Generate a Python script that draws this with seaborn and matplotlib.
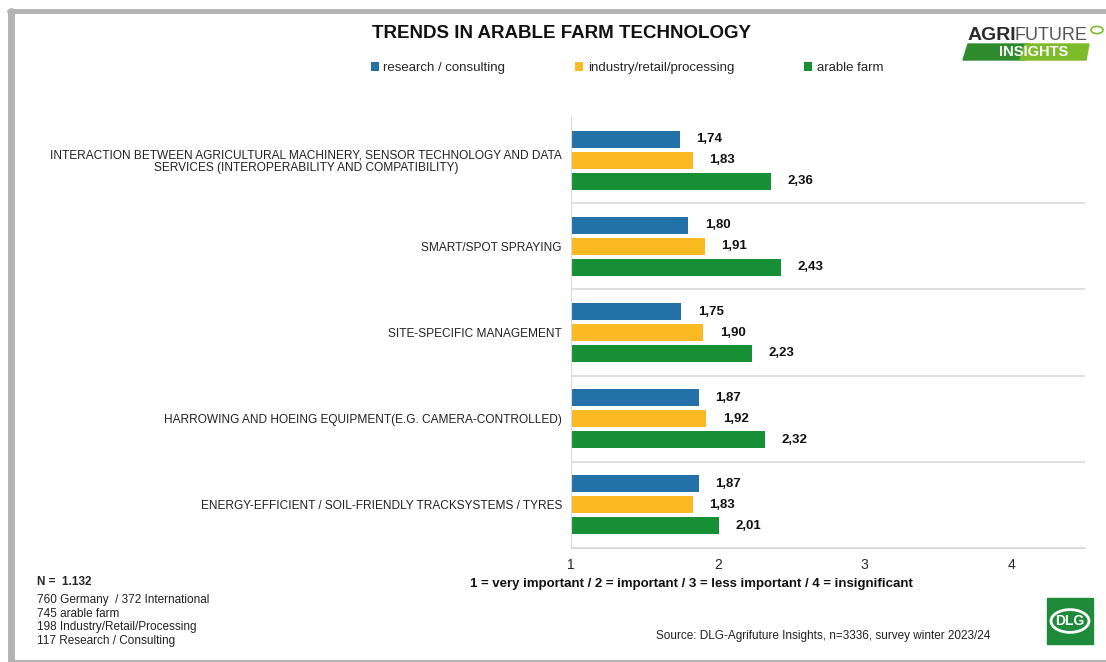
import pandas as pd
import numpy as np
import matplotlib.pyplot as plt
import seaborn as sns
from matplotlib.patches import Rectangle, Polygon, Circle
from matplotlib.lines import Line2D

# dati
categorie = [
    "INTERACTION BETWEEN AGRICULTURAL MACHINERY, SENSOR TECHNOLOGY AND DATA\nSERVICES (INTEROPERABILITY AND COMPATIBILITY)",
    "SMART/SPOT SPRAYING",
    "SITE-SPECIFIC MANAGEMENT",
    "HARROWING AND HOEING EQUIPMENT(E.G. CAMERA-CONTROLLED)",
    "ENERGY-EFFICIENT / SOIL-FRIENDLY TRACKSYSTEMS / TYRES",
]
gruppi = ["research / consulting", "industry/retail/processing", "arable farm"]
research = [1.74, 1.80, 1.75, 1.87, 1.87]
industry = [1.83, 1.91, 1.90, 1.92, 1.83]
arable = [2.36, 2.43, 2.23, 2.32, 2.01]
colori = ["#2470a8", "#fbba22", "#178f34"]
tick_x = [1, 2, 3, 4]

note = ["760 Germany  / 372 International", "745 arable farm",
        "198 Industry/Retail/Processing", "117 Research / Consulting"]

df = pd.DataFrame({
    "categoria": categorie * 3,
    "gruppo": [g for g in gruppi for _ in categorie],
    "valore": research + industry + arable,
})

sns.set_style("white")
plt.rcParams["font.family"] = ["Liberation Sans", "DejaVu Sans"]

W, H = 1106, 662
fig = plt.figure(figsize=(11.06, 6.62), dpi=100)
ax = fig.add_axes([571 / W, 1 - 548 / H, (1085 - 571) / W, (548 - 117) / H])

sns.barplot(data=df, y="categoria", x="valore", hue="gruppo", order=categorie,
            hue_order=gruppi, palette=colori, saturation=1, orient="h",
            width=0.73, gap=0.19, ax=ax, edgecolor="none")

ax.set_xlim(1, 4.5)
ax.set_ylim(4.5, -0.5)
ax.set_xticks(tick_x)
ax.set_xticklabels([str(t) for t in tick_x], fontsize=10)
ax.set_xlabel("")
ax.set_ylabel("")
ax.tick_params(axis="x", length=4, color="#d0d0d0", pad=3)
ax.tick_params(axis="y", length=0, pad=6.5)
for t in ax.get_yticklabels():
    t.set_fontsize(8.6)
    t.set_multialignment("center")
    t.set_linespacing(1.05)
    t.set_color("#222222")

# linee separatrici tra le categorie
for i in range(len(categorie)):
    ax.axhline(i + 0.5, color="#d9d9d9", lw=1.2, zorder=0)
for s in ["top", "right"]:
    ax.spines[s].set_visible(False)
ax.spines["left"].set_color("#d9d9d9")
ax.spines["bottom"].set_color("#d9d9d9")

# etichette dei valori
for cont in ax.containers:
    vals = [b.get_width() for b in cont]
    ax.bar_label(cont, labels=[f"{v:.2f}".replace(".", ",") for v in vals],
                 padding=12, fontsize=9.5, fontweight="bold", color="#111111")

sns.move_legend(ax, "center left", bbox_to_anchor=(359 / W, 1 - 68 / H),
                bbox_transform=fig.transFigure, ncol=3, frameon=False, title=None,
                fontsize=9.5, handlelength=0.6, handleheight=0.6,
                handletextpad=0.35, columnspacing=5.3)

# titolo e testi
fig.text(562 / W, 1 - 33 / H, "TRENDS IN ARABLE FARM TECHNOLOGY", ha="center",
         va="center", fontsize=13.5, fontweight="bold", color="#111111")
fig.text(691 / W, 1 - 584 / H,
         "1 = very important / 2 = important / 3 = less important / 4 = insignificant",
         ha="center", va="center", fontsize=9.5, fontweight="bold", color="#111111")
fig.text(37 / W, 1 - 582 / H, "N =  1.132", ha="left", va="center",
         fontsize=8.5, fontweight="bold")
for i, riga in enumerate(note):
    fig.text(37 / W, 1 - (600 + i * 13.7) / H, riga, ha="left", va="center",
             fontsize=8.5, color="#222222")
fig.text(656 / W, 1 - 636 / H,
         "Source: DLG-Agrifuture Insights, n=3336, survey winter 2023/24",
         ha="left", va="center", fontsize=8.5, color="#222222")

# cornice grigia
def px(x, y):
    return x / W, 1 - y / H

bordo = "#b3b3b3"
fig.add_artist(Line2D([px(11, 0)[0]] * 2, [px(0, 11)[1], px(0, 662)[1]],
                      color=bordo, lw=5, transform=fig.transFigure))
fig.add_artist(Line2D([px(9, 0)[0], 1], [px(0, 11)[1]] * 2,
                      color=bordo, lw=3.5, transform=fig.transFigure))
fig.add_artist(Line2D([px(9, 0)[0], 1], [px(0, 660.5)[1]] * 2,
                      color=bordo, lw=1.5, transform=fig.transFigure))

# logo agrifuture insights
fig.text(968 / W, 1 - 36 / H, "AGRI", ha="left", va="center", fontsize=14,
         fontweight="bold", color="#2b2b2b")
fig.text(1014 / W, 1 - 36 / H, "FUTURE", ha="left", va="center", fontsize=13,
         color="#555555")
fig.add_artist(Polygon([px(968, 44), px(1030, 44), px(1025, 60), px(963, 60)],
                       closed=True, color="#2e8b2e", transform=fig.transFigure))
fig.add_artist(Polygon([px(1025, 44), px(1089, 44), px(1086, 60), px(1020, 60)],
                       closed=True, color="#7dbb2a", transform=fig.transFigure))
fig.text(1034 / W, 1 - 52 / H, "INSIGHTS", ha="center", va="center",
         fontsize=10.5, fontweight="bold", color="white")
fig.add_artist(Circle(px(1097, 30), 6 / W, facecolor="white", edgecolor="#7dbb2a",
                      lw=1.2, transform=fig.transFigure))

# logo DLG
fig.add_artist(Rectangle(px(1047, 644), 46 / W, 46 / H, color="#1e8a3a",
                         transform=fig.transFigure))
fig.add_artist(Circle(px(1070, 621), 19 / W, facecolor="none", edgecolor="white",
                      lw=2, transform=fig.transFigure))
fig.text(1070 / W, 1 - 621 / H, "DLG", ha="center", va="center", fontsize=10,
         fontweight="bold", color="white")

fig.savefig("out.png", dpi=100)
